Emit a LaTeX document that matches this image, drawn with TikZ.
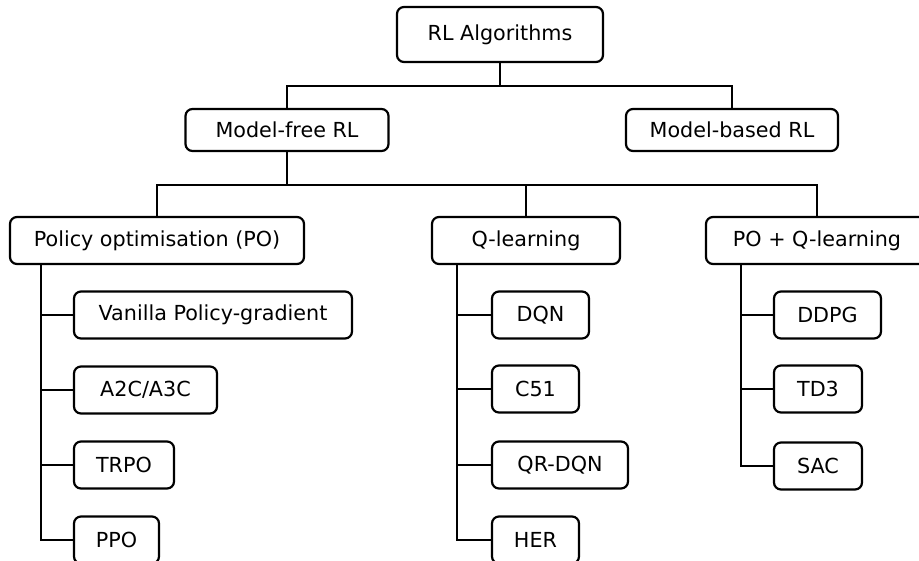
\documentclass[tikz,border=0pt]{standalone}
\usepackage{fontspec}
\setmainfont{DejaVu Sans}
\begin{document}
\begin{tikzpicture}[x=1pt,y=-1pt,
  box/.style={draw, line width=2.2pt, rounded corners=7pt, minimum height=47pt, inner sep=0pt,
    font=\fontsize{20.7}{24}\selectfont, fill=white},
  link/.style={line width=2.2pt}]
\useasboundingbox (0,0) rectangle (919,560);
% nodes
\node[box, minimum width=206pt, minimum height=55pt] (RL) at (500,34.5) {RL Algorithms};
\node[box, minimum width=203pt, minimum height=42pt] (MF) at (287,130) {Model-free RL};
\node[box, minimum width=212pt, minimum height=42pt] (MB) at (732,130) {Model-based RL};
\node[box, minimum width=294pt] (PO) at (157,240.5) {Policy optimisation (PO)};
\node[box, minimum width=188pt] (Q) at (526,240.5) {Q-learning};
\node[box, minimum width=222pt] (PQ) at (817,240.5) {PO + Q-learning};
\node[box, minimum width=278pt] (VPG) at (213,315) {Vanilla Policy-gradient};
\node[box, minimum width=143pt] (A2C) at (145.5,390) {A2C/A3C};
\node[box, minimum width=100pt] (TRPO) at (124,465) {TRPO};
\node[box, minimum width=85pt] (PPO) at (116.5,540) {PPO};
\node[box, minimum width=97pt] (DQN) at (540.5,315) {DQN};
\node[box, minimum width=87pt] (C51) at (535.5,389) {C51};
\node[box, minimum width=136pt] (QR) at (560,465) {QR-DQN};
\node[box, minimum width=87pt] (HER) at (535.5,540) {HER};
\node[box, minimum width=107pt] (DDPG) at (827.5,315) {DDPG};
\node[box, minimum width=88pt] (TD3) at (818,389) {TD3};
\node[box, minimum width=88pt] (SAC) at (818,466) {SAC};
% junctions
\coordinate (j1) at (500,86);
\coordinate (j2) at (287,185);
\coordinate (t1) at ([xshift=32pt]PO.south west);
\coordinate (t2) at ([xshift=26pt]Q.south west);
\coordinate (t3) at ([xshift=36pt]PQ.south west);
% connectors
\begin{scope}[link]
\draw (RL.south) -- (j1);
\draw (MF.north) |- (j1) -| (MB.north);
\draw (MF.south) -- (j2);
\draw (PO.north) |- (j2) -| (PQ.north);
\draw (Q.north) -- (Q.north |- j2);
\draw (t1) |- (PPO.west);
\draw (VPG.west) -- (VPG.west -| t1);
\draw (A2C.west) -- (A2C.west -| t1);
\draw (TRPO.west) -- (TRPO.west -| t1);
\draw (t2) |- (HER.west);
\draw (DQN.west) -- (DQN.west -| t2);
\draw (C51.west) -- (C51.west -| t2);
\draw (QR.west) -- (QR.west -| t2);
\draw (t3) |- (SAC.west);
\draw (DDPG.west) -- (DDPG.west -| t3);
\draw (TD3.west) -- (TD3.west -| t3);
\end{scope}
\end{tikzpicture}
\end{document}
